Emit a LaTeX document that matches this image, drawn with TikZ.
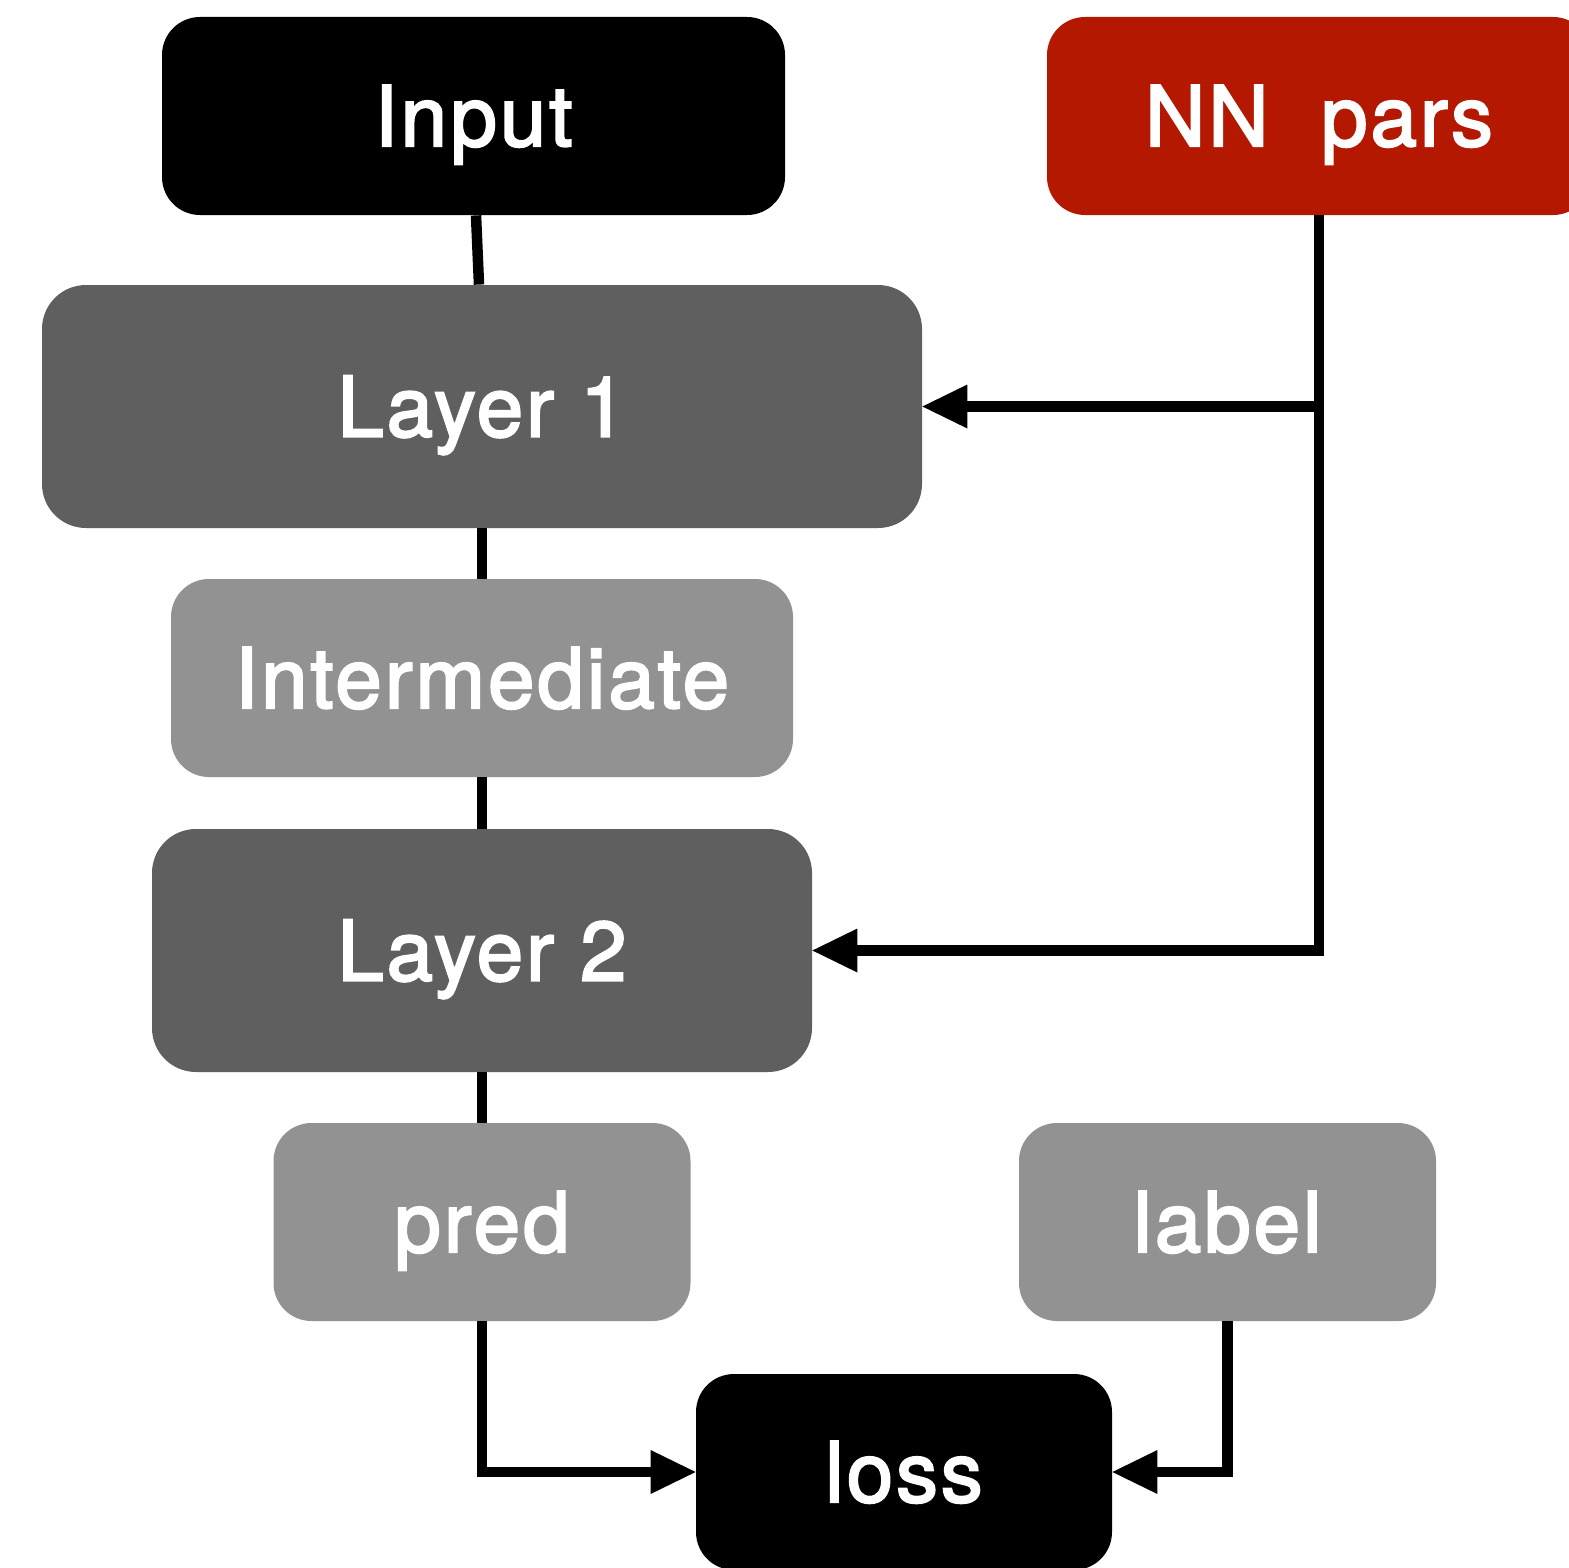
\documentclass[tikz,border=0pt]{standalone}
\usepackage{fontspec}
\setmainfont{TeX Gyre Heros}[LetterSpace=3.5, FakeBold=2.5]
\usetikzlibrary{arrows.meta,calc}

\definecolor{nnred}{HTML}{B41800}
\definecolor{layergray}{HTML}{5F5F5F}
\definecolor{datagray}{HTML}{929292}

\tikzset{
  block/.style={rectangle, inner sep=0pt, text=white,
    font=\fontsize{41.8}{50}\selectfont,
    text height=30pt, text depth=0pt},
  smallblock/.style={block, rounded corners=19pt, minimum height=99pt},
  bigblock/.style={block, rounded corners=22pt, minimum height=121.5pt, fill=layergray},
  link/.style={line width=5.25pt, draw=black},
  feed/.style={link, -{Triangle[length=22.5pt, width=22pt, line width=0pt]}}
}

\begin{document}
\begin{tikzpicture}[x=0.5pt, y=-0.5pt]
  \useasboundingbox (0,0) rectangle (1569,1568);
  \clip (0,0) rectangle (1569,1568);

  % blocks
  \node[smallblock, fill=black, minimum width=311.5pt] (input) at (473.5,116) {Input};
  \node[smallblock, fill=nnred, minimum width=272pt] (nn) at (1319,116) {NN\ \ pars};
  \node[bigblock, minimum width=440pt] (layer1) at (482,406.5) {Layer 1};
  \node[smallblock, fill=datagray, minimum width=311pt] (inter) at (482,678) {Intermediate};
  \node[bigblock, minimum width=330pt] (layer2) at (482,950.5) {Layer 2};
  \node[smallblock, fill=datagray, minimum width=208.5pt] (pred) at (482,1222) {pred};
  \node[smallblock, fill=datagray, minimum width=208.5pt] (label) at (1227.5,1222) {label};
  \node[smallblock, fill=black, minimum width=208pt, minimum height=98pt] (loss) at (904,1472) {loss};

  % forward chain
  \draw[link] ($(input.south)+(2.5,0)$) -- ($(layer1.north)+(-3,0)$);
  \draw[link] (layer1.south) -- (inter.north);
  \draw[link] (inter.south) -- (layer2.north);
  \draw[link] (layer2.south) -- (pred.north);

  % parameters feeding both layers
  \draw[feed] (nn.south) |- (layer1.east);
  \draw[feed] (nn.south) |- (layer2.east);

  % loss inputs
  \draw[feed] (pred.south) |- (loss.west);
  \draw[feed] (label.south) |- (loss.east);
\end{tikzpicture}
\end{document}
